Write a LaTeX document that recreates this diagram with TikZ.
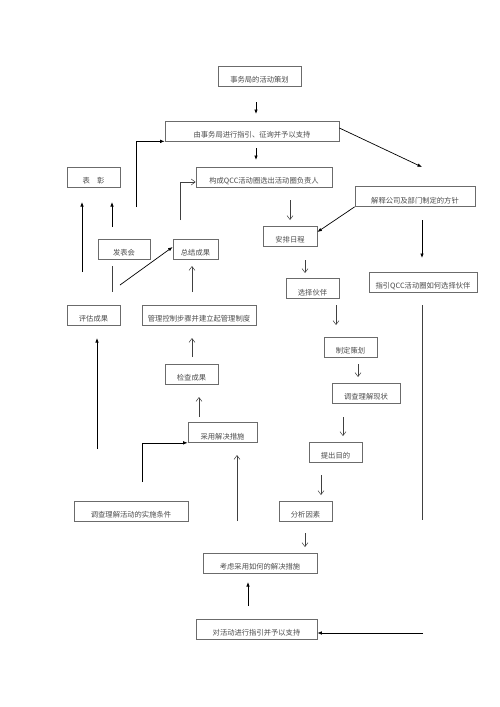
\documentclass[tikz,border=0pt]{standalone}
\usepackage{fontspec}
\setmainfont{Noto Sans CJK SC}
\usetikzlibrary{arrows.meta}
\definecolor{boxline}{gray}{0.42}
\definecolor{txtcol}{gray}{0.3}
\tikzset{
  box/.style={draw=boxline, line width=0.7pt, inner sep=0pt, minimum height=20pt, fill=white},
  txt/.style={font=\fontsize{7.3}{8}\selectfont, text=txtcol, inner sep=0pt, yshift=-4pt},
  farrow/.style={draw=black, line width=0.7pt, -{Latex[length=4.5pt,width=3.5pt]}},
  oarrow/.style={draw=black!75, line width=0.5pt, -{Straight Barb[length=4pt,width=6pt]}},
  plainline/.style={draw=black!75, line width=0.7pt},
}
\newcommand{\bx}[5]{\node[box, minimum width=#3pt, label={[txt]center:#5}] (#1) at (#2) {};}
\begin{document}
\begin{tikzpicture}[x=1pt,y=-1pt]
\useasboundingbox[fill=white] (0,0) rectangle (500,707);
% boxes
\bx{top}{259.5,76}{83}{}{事务局的活动策划}
\bx{guide}{252,131}{174}{}{由事务局进行指引、征询并予以支持}
\bx{qcc}{264,177}{136}{}{构成QCC活动圈选出活动圈负责人}
\bx{praise}{93.5,177}{53}{}{表\quad 彰}
\bx{explain}{415,196.5}{120}{}{解释公司及部门制定的方针}
\bx{plan}{290,236}{54}{}{安排日程}
\bx{lead}{423,282}{108}{}{指引QCC活动圈如何选择伙伴}
\bx{pick}{312.5,288.5}{53}{}{选择伙伴}
\bx{make}{350.5,347}{53}{}{制定策划}
\bx{survey}{366,393}{68}{}{调查理解现状}
\bx{goal}{335.5,452}{53}{}{提出目的}
\bx{factor}{305.5,511}{53}{}{分析因素}
\bx{consider}{260,563}{114}{}{考虑采用如何的解决措施}
\bx{support}{256.5,629}{121}{}{对活动进行指引并予以支持}
\bx{report}{124,249}{52}{}{发表会}
\bx{sum}{195.5,249}{45}{}{总结成果}
\bx{assess}{93.5,315}{53}{}{评估成果}
\bx{manage}{199,315}{114}{}{管理控制步骤并建立起管理制度}
\bx{check}{191.5,374}{53}{}{检查成果}
\bx{adopt}{222.5,432.5}{69}{}{采用解决措施}
\bx{cond}{131,511}{114}{}{调查理解活动的实施条件}
% free ends
\coordinate (a1s) at (256,102); \coordinate (a1e) at (256,114);
\coordinate (a2s) at (256,148); \coordinate (a2e) at (256,160);
\coordinate (a3e) at (422,167);
\coordinate (a4s) at (136,207);
\coordinate (a5s) at (180,220);
\coordinate (a6s) at (290,200); \coordinate (a6e) at (290,220);
\coordinate (a7s) at (422,220); \coordinate (a7e) at (422,258);
\coordinate (a8s) at (422,305); \coordinate (a8e) at (422,520);
\coordinate (a9s) at (305,260); \coordinate (a9e) at (305,273);
\coordinate (b1s) at (336,305); \coordinate (b1e) at (336,325);
\coordinate (b2s) at (358,364); \coordinate (b2e) at (358,377);
\coordinate (b3s) at (343,417); \coordinate (b3e) at (343,436);
\coordinate (b4s) at (321,475); \coordinate (b4e) at (321,495);
\coordinate (b5s) at (305,533); \coordinate (b5e) at (305,547);
\coordinate (b6s) at (248,606); \coordinate (b6e) at (248,582);
\coordinate (b7s) at (423,633);
\coordinate (c1s) at (82,272); \coordinate (c1e) at (82,202);
\coordinate (c2s) at (112,227); \coordinate (c2e) at (112,202);
\coordinate (c3s) at (120,285);
\coordinate (c4s) at (112,266); \coordinate (c4e) at (112,292);
\coordinate (c5s) at (192,292); \coordinate (c5e) at (192,266);
\coordinate (c6s) at (192,357); \coordinate (c6e) at (192,338);
\coordinate (c7s) at (97,449); \coordinate (c7e) at (97,338);
\coordinate (c8s) at (199,417); \coordinate (c8e) at (199,397);
\coordinate (c9s) at (142,482);
\coordinate (d1s) at (237,521); \coordinate (d1e) at (237,455);
% connectors
\draw[farrow] (a1s) -- (a1e);
\draw[farrow] (a2s) -- (a2e);
\draw[farrow] (guide.east |- 0,128) -- (a3e);
\draw[farrow] (a4s) -- (a4s |- guide.south) -- (guide.south west);
\draw[oarrow] (a5s) -- (180,182) -- (qcc.west |- 0,182);
\draw[oarrow] (a6s) -- (a6e);
\draw[farrow] (explain.south west) -- (plan.east |- 0,232);
\draw[farrow] (a7s) -- (a7e);
\draw[plainline] (a8s) -- (a8e);
\draw[oarrow] (a9s) -- (a9e);
\draw[oarrow] (b1s) -- (b1e);
\draw[oarrow] (b2s) -- (b2e);
\draw[oarrow] (b3s) -- (b3e);
\draw[oarrow] (b4s) -- (b4e);
\draw[oarrow] (b5s) -- (b5e);
\draw[farrow] (b6s) -- (b6e);
\draw[farrow] (b7s) -- (support.east |- b7s);
\draw[farrow] (c1s) -- (c1e);
\draw[farrow] (c2s) -- (c2e);
\draw[farrow] (c3s) -- (sum.west |- 0,247);
\draw[plainline] (c4s) -- (c4e);
\draw[oarrow] (c5s) -- (c5e);
\draw[oarrow] (c6s) -- (c6e);
\draw[farrow] (c7s) -- (c7e);
\draw[oarrow] (c8s) -- (c8e);
\draw[farrow] (c9s) -- (c9s |- adopt.south) -- (adopt.south west);
\draw[oarrow] (d1s) -- (d1e);
\end{tikzpicture}
\end{document}
